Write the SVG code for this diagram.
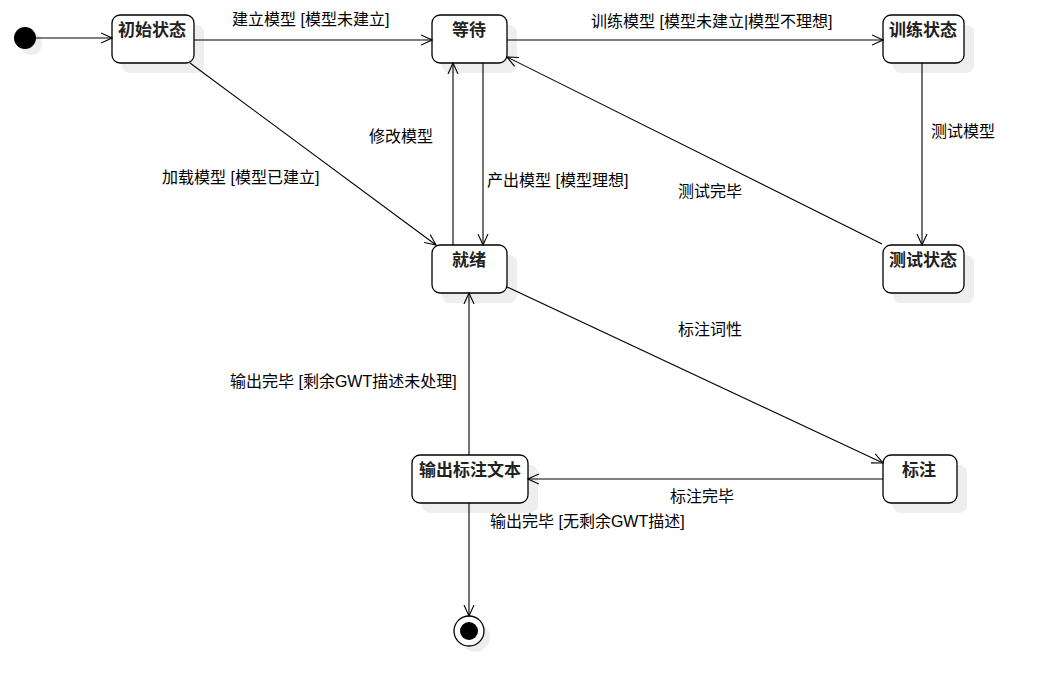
<svg xmlns="http://www.w3.org/2000/svg" width="1045" height="696" viewBox="0 0 1045 696">
<defs>
<style>
.shadow{fill:#eeeeee;stroke:none}
.box{fill:#ffffff;stroke:#000;stroke-width:1.3}
.name{font-family:"Liberation Sans","Noto Sans CJK SC",sans-serif;font-size:17px;font-weight:bold;fill:#222;text-anchor:middle}
.lbl{font-family:"Liberation Sans","Noto Sans CJK SC",sans-serif;font-size:16px;fill:#000}
.edge{fill:none;stroke:#000;stroke-width:1.1;marker-end:url(#arr)}
</style>
<marker id="arr" viewBox="0 0 12 12" refX="11" refY="6" markerWidth="12" markerHeight="12" markerUnits="userSpaceOnUse" orient="auto">
<path d="M0,1 L11,6 L0,11" fill="none" stroke="#000" stroke-width="1.1"/>
</marker>
</defs>
<rect width="1045" height="696" fill="#fff"/>

<g id="start">
<circle class="shadow" cx="31" cy="44" r="11"/>
<circle cx="25" cy="38" r="11" fill="#000"/>
</g>

<g id="s_init">
<rect class="shadow" x="122" y="25" width="82" height="48" rx="8"/>
<rect class="box" x="112" y="15" width="82" height="48" rx="8"/>
<text class="name" x="152" y="36">初始状态</text>
</g>

<g id="s_wait">
<rect class="shadow" x="442" y="25" width="75" height="48" rx="8"/>
<rect class="box" x="432" y="15" width="75" height="48" rx="8"/>
<text class="name" x="469" y="36">等待</text>
</g>

<g id="s_train">
<rect class="shadow" x="893" y="25" width="81" height="48" rx="8"/>
<rect class="box" x="883" y="15" width="81" height="48" rx="8"/>
<text class="name" x="923" y="36">训练状态</text>
</g>

<g id="s_ready">
<rect class="shadow" x="442" y="255" width="75" height="48" rx="8"/>
<rect class="box" x="432" y="245" width="75" height="48" rx="8"/>
<text class="name" x="469" y="266">就绪</text>
</g>

<g id="s_test">
<rect class="shadow" x="893" y="255" width="81" height="48" rx="8"/>
<rect class="box" x="883" y="245" width="81" height="48" rx="8"/>
<text class="name" x="923" y="266">测试状态</text>
</g>

<g id="s_output">
<rect class="shadow" x="422" y="465" width="116" height="48" rx="8"/>
<rect class="box" x="412" y="455" width="116" height="48" rx="8"/>
<text class="name" x="470" y="476">输出标注文本</text>
</g>

<g id="s_tag">
<rect class="shadow" x="893" y="465" width="74" height="48" rx="8"/>
<rect class="box" x="883" y="455" width="74" height="48" rx="8"/>
<text class="name" x="919" y="476">标注</text>
</g>

<g id="end">
<circle class="shadow" cx="475" cy="637" r="15"/>
<circle cx="469" cy="631" r="15" fill="#fff" stroke="#000" stroke-width="1.3"/>
<circle cx="469" cy="631" r="9" fill="#000"/>
</g>

<g id="connectors">
<path class="edge" d="M36,38 L112,38"/>
<path class="edge" d="M194,40 L432,40"/>
<text class="lbl" x="232" y="25">建立模型 [模型未建立]</text>
<path class="edge" d="M507,40 L883,40"/>
<text class="lbl" x="591" y="27">训练模型 [模型未建立|模型不理想]</text>
<path class="edge" d="M922,63 L922,245"/>
<text class="lbl" x="931" y="137">测试模型</text>
<path class="edge" d="M882,244 L507,57"/>
<text class="lbl" x="678" y="197">测试完毕</text>
<path class="edge" d="M190,63 L436,245"/>
<text class="lbl" x="162" y="183">加载模型 [模型已建立]</text>
<path class="edge" d="M453,245 L453,63"/>
<text class="lbl" x="369" y="142">修改模型</text>
<path class="edge" d="M483,63 L483,245"/>
<text class="lbl" x="487" y="186">产出模型 [模型理想]</text>
<path class="edge" d="M507,287 L883,463"/>
<text class="lbl" x="678" y="335">标注词性</text>
<path class="edge" d="M883,479 L528,479"/>
<text class="lbl" x="670" y="502">标注完毕</text>
<path class="edge" d="M469,455 L469,293"/>
<text class="lbl" x="230" y="387">输出完毕 [剩余GWT描述未处理]</text>
<path class="edge" d="M469,503 L469,616"/>
<text class="lbl" x="490" y="527">输出完毕 [无剩余GWT描述]</text>
</g>
</svg>
